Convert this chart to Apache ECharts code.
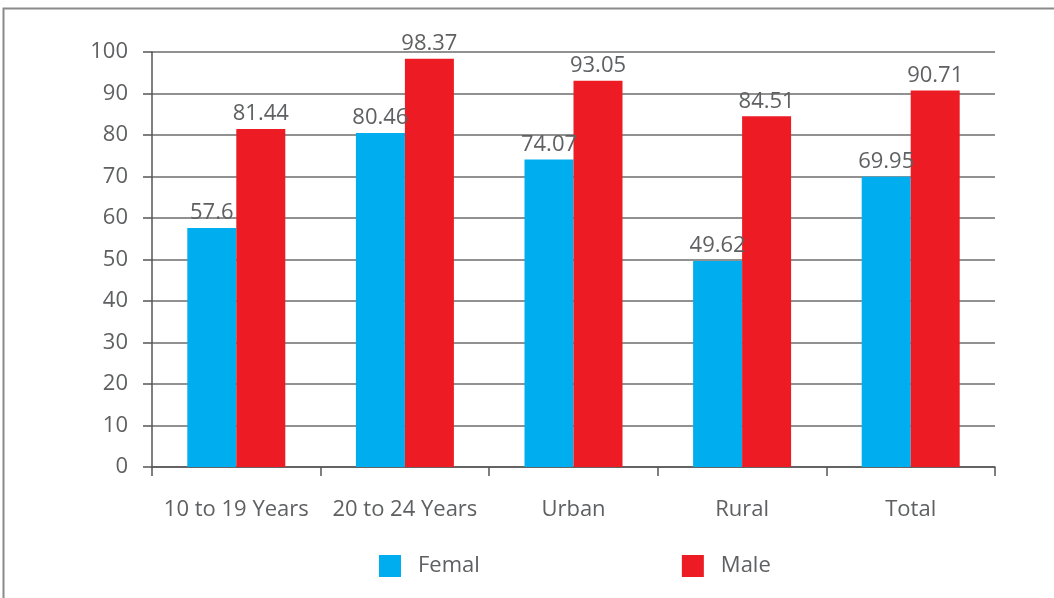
<!DOCTYPE html>
<html>
<head>
<meta charset="utf-8">
<script src="https://cdn.jsdelivr.net/npm/echarts@6/dist/echarts.min.js"></script>
<style>
  html, body { margin: 0; padding: 0; background: #fff; }
  #main { width: 1054px; height: 598px; }
</style>
</head>
<body>
<div id="main"></div>
<script>
const categories = ['10 to 19 Years', '20 to 24 Years', 'Urban', 'Rural', 'Total']
const femaleValues = [57.6, 80.46, 74.07, 49.62, 69.95]
const maleValues = [81.44, 98.37, 93.05, 84.51, 90.71]
const yTicks = [0, 10, 20, 30, 40, 50, 60, 70, 80, 90, 100]

const textColor = '#5f6062'
const fontFamily = 'Open Sans'

const chart = echarts.init(document.getElementById('main'))

const labelOption = {
  show: true,
  position: 'top',
  distance: 4,
  color: textColor,
  fontSize: 22,
  fontFamily: fontFamily,
  formatter: function (p) { return String(p.value) }
}

const option = {
  animation: false,
  backgroundColor: '#fff',
  graphic: [
    {
      type: 'rect',
      shape: { x: 3.5, y: 8.5, width: 1060, height: 600 },
      style: { fill: 'none', stroke: '#8a8a8a', lineWidth: 2 },
      silent: true
    }
  ],
  grid: { left: 152, right: 59, top: 52, bottom: 131 },
  legend: {
    bottom: 16,
    left: 374,
    itemWidth: 22,
    itemHeight: 22,
    itemGap: 202,
    icon: 'rect',
    textStyle: { color: textColor, fontSize: 22, fontFamily: fontFamily, padding: [0, 0, 0, 12] },
    data: ['Femal', 'Male']
  },
  xAxis: {
    type: 'category',
    data: categories,
    axisLine: { lineStyle: { color: '#555', width: 1.5 } },
    axisTick: { show: true, interval: 0, length: 9, lineStyle: { color: '#555', width: 1.5 } },
    axisLabel: { interval: 0, color: textColor, fontSize: 22, fontFamily: fontFamily, margin: 32 }
  },
  yAxis: {
    type: 'value',
    min: yTicks[0],
    max: yTicks[yTicks.length - 1],
    interval: 10,
    axisLine: { show: true, lineStyle: { color: '#555', width: 1.5 } },
    axisTick: { show: true, length: 9, lineStyle: { color: '#555', width: 1.5 } },
    splitLine: { lineStyle: { color: '#6d6d6d', width: 1.5 } },
    axisLabel: { color: textColor, fontSize: 22, fontFamily: fontFamily, margin: 24 }
  },
  series: [
    {
      name: 'Femal',
      type: 'bar',
      barWidth: 49,
      barGap: 0,
      itemStyle: { color: '#00aeef' },
      label: labelOption,
      data: femaleValues
    },
    {
      name: 'Male',
      type: 'bar',
      barWidth: 49,
      itemStyle: { color: '#ed1c24' },
      label: labelOption,
      data: maleValues
    }
  ]
}

chart.setOption(option)
</script>
</body>
</html>
